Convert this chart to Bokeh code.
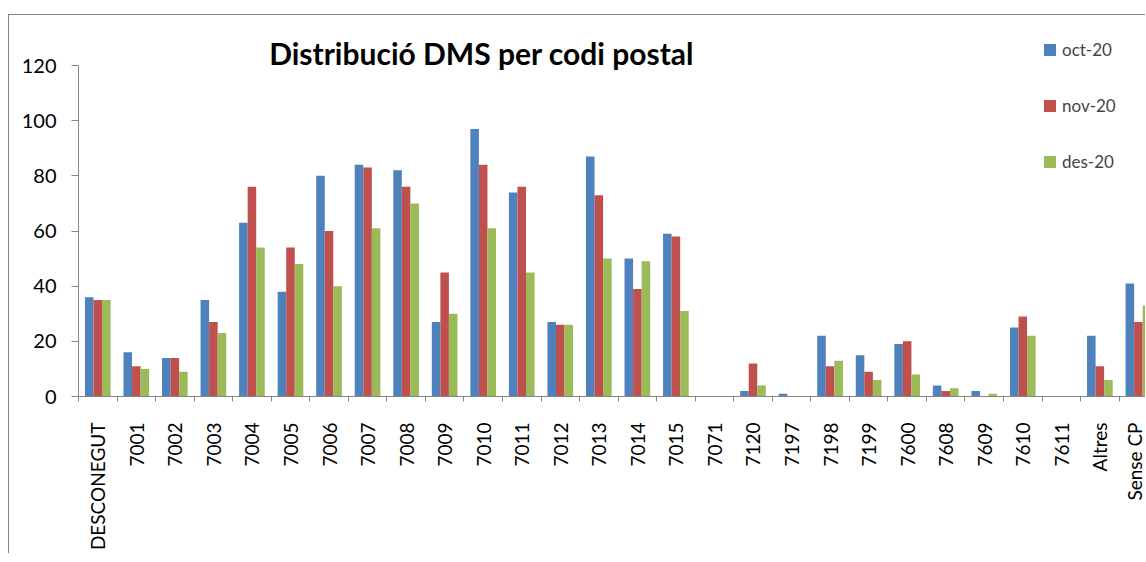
from bokeh.plotting import figure
from bokeh.models import (ColumnDataSource, FixedTicker, Label, Legend,
                          LegendItem, Range1d, LinearAxis)
from bokeh.transform import dodge
from bokeh.embed import file_html
from bokeh.resources import INLINE
from math import pi

# ---- data ----
categories = ["DESCONEGUT", "7001", "7002", "7003", "7004", "7005", "7006",
              "7007", "7008", "7009", "7010", "7011", "7012", "7013", "7014",
              "7015", "7071", "7120", "7197", "7198", "7199", "7600", "7608",
              "7609", "7610", "7611", "Altres", "Sense CP"]
oct20 = [36, 16, 14, 35, 63, 38, 80, 84, 82, 27, 97, 74, 27, 87, 50, 59,
         0, 2, 1, 22, 15, 19, 4, 2, 25, 0, 22, 41]
nov20 = [35, 11, 14, 27, 76, 54, 60, 83, 76, 45, 84, 76, 26, 73, 39, 58,
         0, 12, 0, 11, 9, 20, 2, 0, 29, 0, 11, 27]
des20 = [35, 10, 9, 23, 54, 48, 40, 61, 70, 30, 61, 45, 26, 50, 49, 31,
         0, 4, 0, 13, 6, 8, 3, 1, 22, 0, 6, 33]
series_names = ["oct-20", "nov-20", "des-20"]
series_colors = ["#4F81BD", "#C0504D", "#9BBB59"]
y_ticks = [0, 20, 40, 60, 80, 100, 120]
title_text = "Distribució DMS per codi postal"

FONT = "Lato"
AXIS_GRAY = "#868686"

idx = list(range(len(categories)))
source = ColumnDataSource(dict(x=idx, oct=oct20, nov=nov20, des=des20))

p = figure(width=1137, height=539,
           x_range=Range1d(-0.5, 27.21), y_range=Range1d(0, 138.13),
           output_backend="svg", toolbar_location=None,
           min_border_left=69, min_border_right=0,
           min_border_top=0, min_border_bottom=158,
           x_axis_type=None, y_axis_type=None)
p.outline_line_color = None
p.xgrid.visible = False
p.ygrid.visible = False
p.background_fill_color = "white"
p.border_fill_color = "white"
p.styles = {"border-left": "1px solid #868686",
            "border-top": "1px solid #868686",
            "margin-top": "14px",
            "margin-left": "8px"}

bw = 0.222
offsets = [-bw, 0.0, bw]
cols = ["oct", "nov", "des"]
renderers = []
for c, off, color in zip(cols, offsets, series_colors):
    r = p.vbar(x=dodge("x", off, range=p.x_range), top=c, width=bw,
               source=source, fill_color=color, line_color=None)
    renderers.append(r)

# y axis (line limited to 0..120)
yax = LinearAxis(ticker=FixedTicker(ticks=y_ticks, minor_ticks=[]),
                 bounds=(0, 120))
yax.axis_line_color = AXIS_GRAY
yax.major_tick_line_color = AXIS_GRAY
yax.major_tick_out = 7
yax.major_tick_in = 0
yax.minor_tick_out = 0
yax.major_label_standoff = 15
yax.major_label_text_font = FONT
yax.major_label_text_font_size = "20px"
yax.major_label_text_color = "#000000"
p.add_layout(yax, "left")

# x axis: labels at category centres, tick marks at boundaries
xax = LinearAxis(ticker=FixedTicker(ticks=idx,
                                    minor_ticks=[i - 0.5 for i in range(len(categories) + 1)]))
xax.major_label_overrides = {i: c for i, c in enumerate(categories)}
xax.axis_line_color = AXIS_GRAY
xax.major_tick_out = 0
xax.major_tick_in = 0
xax.major_tick_line_color = None
xax.minor_tick_line_color = AXIS_GRAY
xax.minor_tick_out = 5
xax.minor_tick_in = 0
xax.major_label_orientation = pi / 2
xax.major_label_standoff = 21
xax.major_label_text_font = FONT
xax.major_label_text_font_size = "19px"
xax.major_label_text_color = "#000000"
p.add_layout(xax, "below")

# title
p.add_layout(Label(x=9.96, y=124.6, text=title_text, text_align="center",
                   text_baseline="alphabetic", text_font=FONT,
                   text_font_style="bold", text_font_size="30px",
                   text_color="#000000"))

legend = Legend(items=[LegendItem(label=n, renderers=[r])
                       for n, r in zip(series_names, renderers)],
                location=(964, 224), orientation="vertical",
                glyph_width=15, glyph_height=15, label_height=20,
                spacing=35, padding=0, margin=0,
                border_line_color=None, background_fill_alpha=0,
                label_text_font=FONT, label_text_font_size="17px",
                label_standoff=5)
p.add_layout(legend)

open("out.html", "w").write(file_html(p, INLINE))
